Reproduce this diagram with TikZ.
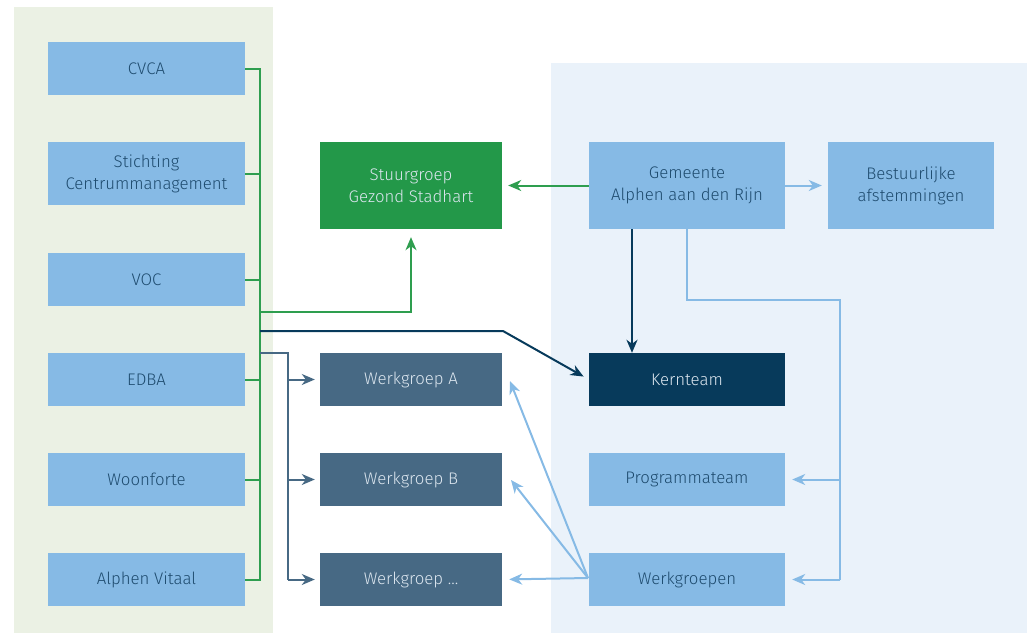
\documentclass[tikz,border=0pt]{standalone}
\usepackage{fontspec}
\setmainfont{Fira Sans Light}
\usetikzlibrary{arrows.meta}
\definecolor{lbox}{HTML}{86BAE5}
\definecolor{lpanel}{HTML}{EBF1E4}
\definecolor{rpanel}{HTML}{EAF2FA}
\definecolor{gbox}{HTML}{239849}
\definecolor{gline}{HTML}{2E9E4F}
\definecolor{kbox}{HTML}{073A5B}
\definecolor{wbox}{HTML}{476984}
\definecolor{ltext}{HTML}{1E4B6E}
\definecolor{dtext}{HTML}{DCE6EF}
\definecolor{lline}{HTML}{86BAE5}
\tikzset{
  boxbase/.style={rectangle, inner sep=0pt, align=center, font=\fontsize{16.8}{22}\selectfont},
  lightbox/.style={boxbase, fill=lbox, text=ltext},
  greenbox/.style={boxbase, fill=gbox, text=dtext},
  kernbox/.style={boxbase, fill=kbox, text=dtext},
  wgbox/.style={boxbase, fill=wbox, text=dtext},
  tip/.style={-{Stealth[length=13pt,width=11pt,inset=4pt]}},
  greenline/.style={draw=gline, line width=2pt},
  darkline/.style={draw=kbox, line width=2pt},
  wgline/.style={draw=wbox, line width=2pt},
  lightline/.style={draw=lline, line width=2pt},
}
\begin{document}
\begin{tikzpicture}[x=1pt,y=-1pt]
\useasboundingbox (0,0) rectangle (1031,633);
% panels
\fill[lpanel] (14,7) rectangle (273,633);
\fill[rpanel] (551,63) rectangle (1027,633);
% left column
\node[lightbox, minimum width=197pt, minimum height=53pt] (cvca) at (146.5,68.5) {CVCA};
\node[lightbox, minimum width=197pt, minimum height=63pt] (stich) at (146.5,173.5) {Stichting\\Centrummanagement};
\node[lightbox, minimum width=197pt, minimum height=53pt] (voc) at (146.5,279.5) {VOC};
\node[lightbox, minimum width=197pt, minimum height=53pt] (edba) at (146.5,379.5) {EDBA};
\node[lightbox, minimum width=197pt, minimum height=53pt] (woon) at (146.5,479.5) {Woonforte};
\node[lightbox, minimum width=197pt, minimum height=53pt] (vitaal) at (146.5,579.5) {Alphen Vitaal};
% middle column
\node[greenbox, minimum width=182pt, minimum height=87pt] (stuur) at (411,185.5) {Stuurgroep\\Gezond Stadhart};
\node[wgbox, minimum width=182pt, minimum height=53pt] (wga) at (411,379.5) {Werkgroep A};
\node[wgbox, minimum width=182pt, minimum height=53pt] (wgb) at (411,479.5) {Werkgroep B};
\node[wgbox, minimum width=182pt, minimum height=53pt] (wgx) at (411,579.5) {Werkgroep ...};
% right column
\node[lightbox, minimum width=196pt, minimum height=87pt] (gem) at (687,185.5) {Gemeente\\Alphen aan den Rijn};
\node[lightbox, minimum width=166pt, minimum height=87pt] (best) at (911,185.5) {Bestuurlijke\\afstemmingen};
\node[kernbox, minimum width=196pt, minimum height=53pt] (kern) at (687,379.5) {Kernteam};
\node[lightbox, minimum width=196pt, minimum height=53pt] (prog) at (687,479.5) {Programmateam};
\node[lightbox, minimum width=196pt, minimum height=53pt] (wgn) at (687,579.5) {Werkgroepen};
% green bus
\coordinate (bt) at (260,68.5);
\coordinate (bb) at (260,579.5);
\draw[greenline] (cvca.east) -- (bt) -- (bb) -- (vitaal.east);
\draw[greenline] (stich.east) -- (stich.east -| bt);
\draw[greenline] (voc.east) -- (voc.east -| bt);
\draw[greenline] (edba.east) -- (edba.east -| bt);
\draw[greenline] (woon.east) -- (woon.east -| bt);
% to stuurgroep
\coordinate (g1) at (260,312);
\draw[greenline, tip, shorten >=8pt] (g1) -| (stuur.south);
% to kernteam
\coordinate (k1) at (260,331);
\coordinate (k2) at (503,331);
\draw[darkline, tip, shorten >=6pt] (k1) -- (k2) -- (kern.west);
% werkgroep branch
\coordinate (w1) at (260,353);
\coordinate (w2) at (288,353);
\coordinate (w3) at (288,579.5);
\draw[wgline] (w1) -- (w2) -- (w3);
\draw[wgline, tip, shorten >=5pt] (wga.west -| w2) -- (wga.west);
\draw[wgline, tip, shorten >=5pt] (wgb.west -| w2) -- (wgb.west);
\draw[wgline, tip, shorten >=5pt] (w3) -- (wgx.west);
% gemeente arrows
\draw[greenline, tip, shorten >=6pt] (gem.west) -- (stuur.east);
\draw[lightline, tip, shorten >=6pt] (gem.east) -- (best.west);
\coordinate (gd) at (632,229);
\draw[darkline, tip] (gd) -- (gd |- kern.north);
\coordinate (l1) at (687,229);
\coordinate (l2) at (687,300);
\coordinate (l3) at (840,300);
\coordinate (l4) at (840,579.5);
\draw[lightline] (l1) -- (l2) -- (l3) -- (l4);
\draw[lightline, tip, shorten >=7pt] (prog.east -| l3) -- (prog.east);
\draw[lightline, tip, shorten >=7pt] (l4) -- (wgn.east);
% werkgroepen to werkgroep boxes
\coordinate (o) at (588,578);
\draw[lightline, tip] (o) -- (510,381);
\draw[lightline, tip] (o) -- (511,480);
\draw[lightline, tip, shorten >=7pt] (o) -- (wgx.east);
\end{tikzpicture}
\end{document}
